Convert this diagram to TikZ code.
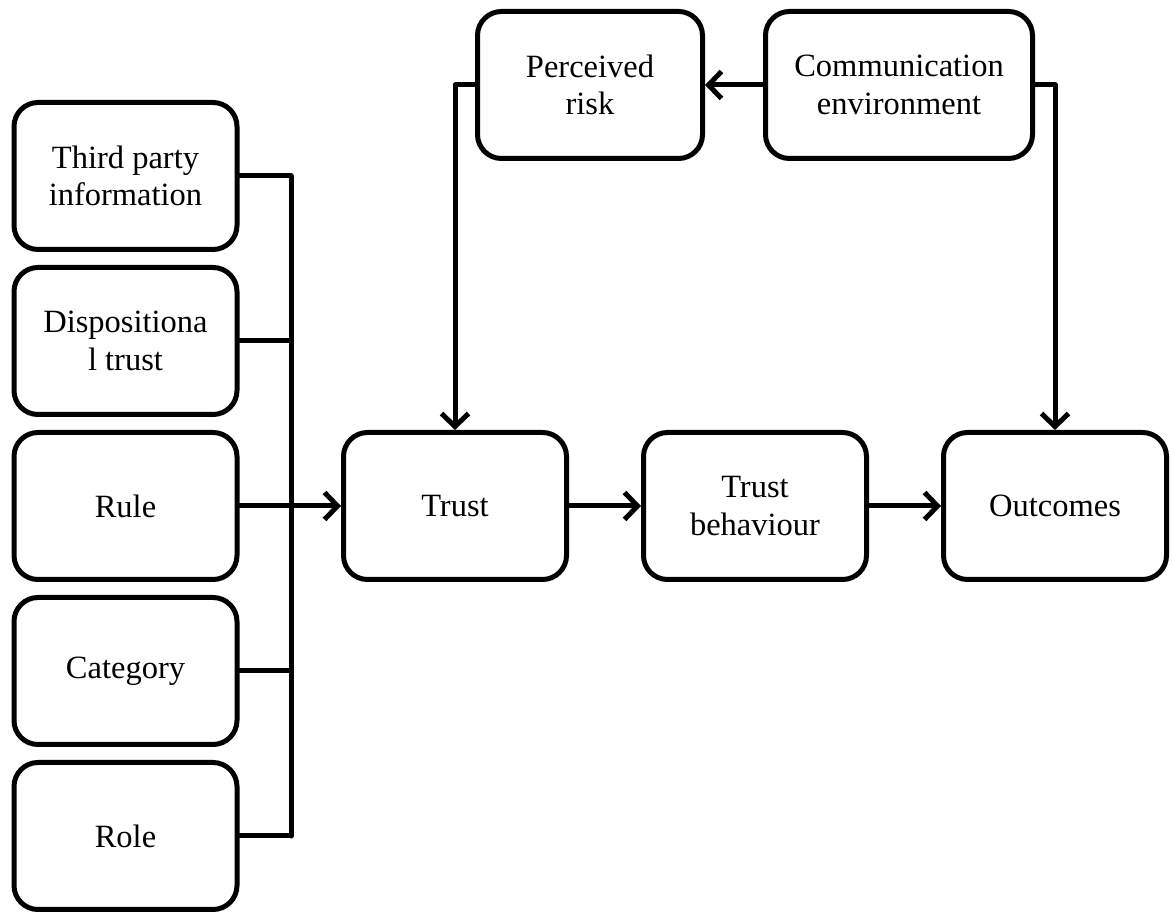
\documentclass[tikz,border=0pt]{standalone}
\usepackage{fontspec}
\setmainfont{Liberation Serif}
\usetikzlibrary{arrows.meta}

\begin{document}
\begin{tikzpicture}[x=1pt,y=1pt,line cap=round,line join=round,
  box/.style={draw,line width=5pt,rounded corners=24pt,fill=white,
    minimum width=223pt,minimum height=147pt,align=center,
    font=\fontsize{32.5}{37.5}\selectfont},
  link/.style={line width=5pt},
  arr/.style={link,-{Straight Barb[length=13pt,width=27pt,line width=5pt]}}]

\useasboundingbox (0,0) rectangle (1173,912);

% Left column of trust sources.
\foreach \n/\t/\y in {third/{Third party\\information}/736,
  disp/{Dispositiona\\l trust}/571,
  rule/{Rule}/406,
  categ/{Category}/241,
  role/{Role}/76}
  \node[box] (\n) at (125.5,\y) {\t};
\coordinate (bus) at (291,406);

% Main chain.
\node[box] (trust) at (455,406) {Trust};
\node[box] (behav) at (755,406) {Trust\\behaviour};
\node[box] (outc) at (1055,406) {Outcomes};

% Top row.
\node[box,minimum width=225pt] (risk) at (590,827) {Perceived\\risk};
\node[box,minimum width=267pt] (comm) at (899,827) {Communication\\environment};

% Sources join a single bus into Trust.
\foreach \n in {third,disp,rule,categ,role}
  \draw[link] (\n.east) -- (\n.east -| bus);
\draw[link] (third.east -| bus) -- (role.east -| bus);
\draw[arr] (rule.east) -- (trust.west);

\draw[arr] (trust.east) -- (behav.west);
\draw[arr] (behav.east) -- (outc.west);

\draw[arr] (comm.west) -- (risk.east);
\draw[arr] (risk.west) -| (trust.north);
\draw[arr] (comm.east) -| (outc.north);
\end{tikzpicture}
\end{document}
